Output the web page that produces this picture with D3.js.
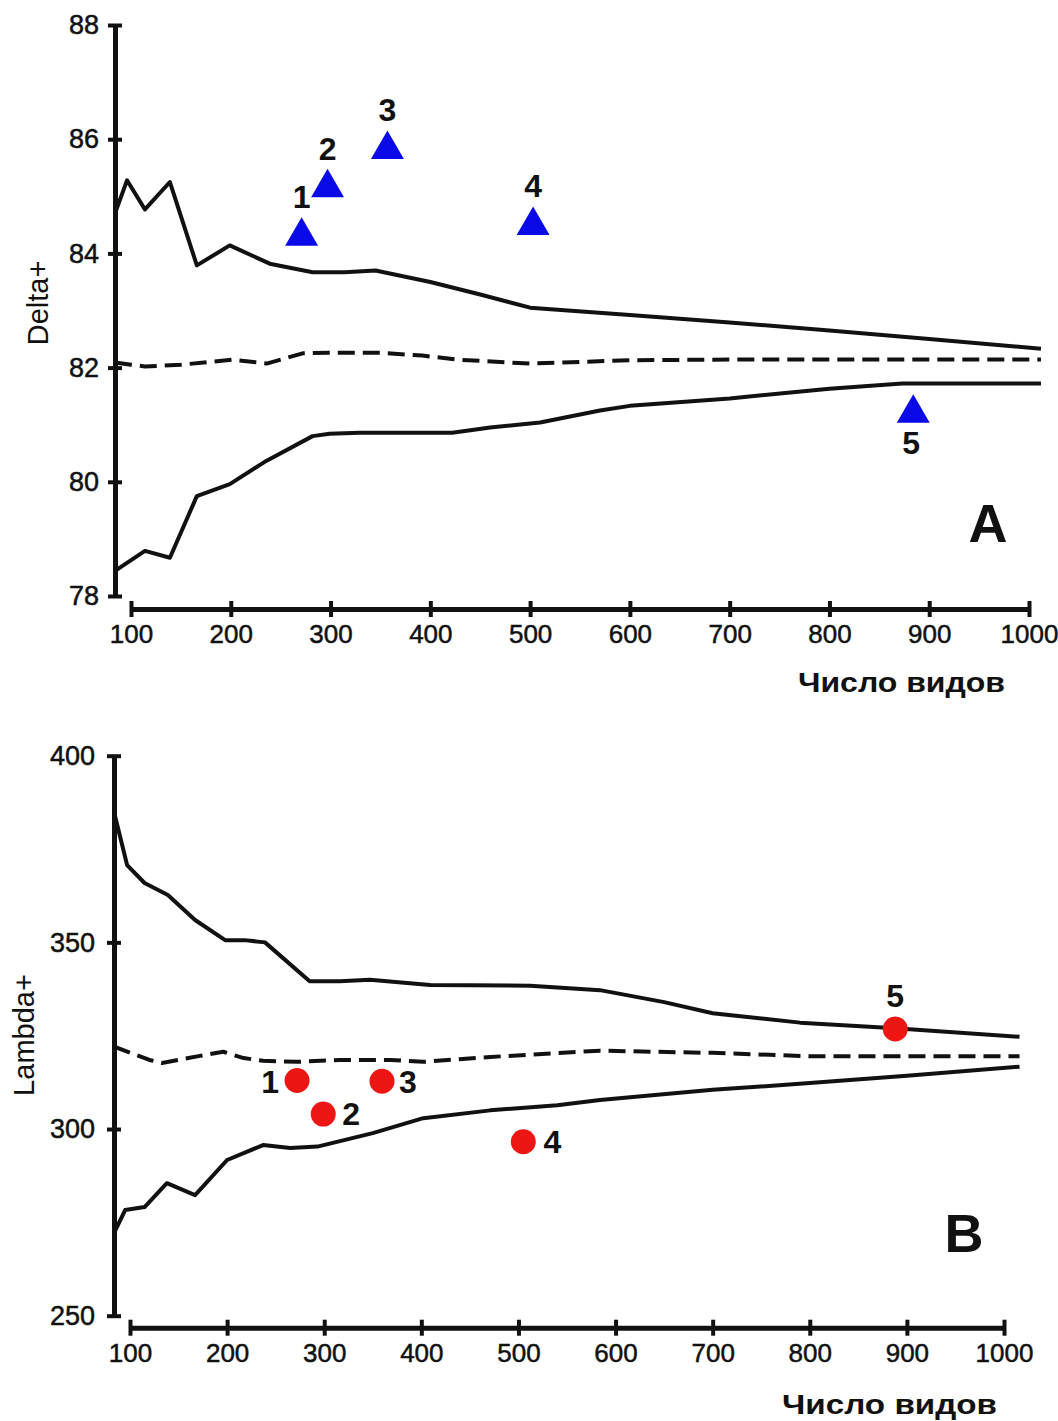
<!DOCTYPE html>
<html>
<head>
<meta charset="utf-8">
<script src="https://cdn.jsdelivr.net/npm/d3@7"></script>
<style>
  body { margin: 0; background: #fff; }
  text { font-family: "Liberation Sans", Arial, sans-serif; fill: #111; }
</style>
</head>
<body>
<svg id="chart" width="1058" height="1421"></svg>
<script>
// ---- panel A : Delta+ ----
const aTicksX = [100, 200, 300, 400, 500, 600, 700, 800, 900, 1000];
const aTicksY = [78, 80, 82, 84, 86, 88];

const aUpperN = [84, 96, 114, 139, 166, 199, 239, 282, 314, 345, 400, 450, 500, 600, 700, 800, 900, 1012];
const aUpperV = [84.7, 85.28, 84.77, 85.25, 83.79, 84.14, 83.82, 83.67, 83.67, 83.70, 83.50, 83.28, 83.05, 82.92, 82.79, 82.65, 82.50, 82.33];

const aMeanN = [84, 100, 114, 150, 202, 236, 272, 299, 350, 392, 427, 500, 550, 600, 700, 800, 900, 1012];
const aMeanV = [82.09, 82.05, 82.02, 82.05, 82.14, 82.07, 82.25, 82.26, 82.26, 82.21, 82.14, 82.07, 82.10, 82.13, 82.14, 82.14, 82.14, 82.14];

const aLowerN = [84, 114, 139, 166, 199, 236, 282, 299, 329, 422, 460, 510, 570, 600, 700, 800, 873, 1012];
const aLowerV = [78.44, 78.79, 78.67, 79.75, 79.96, 80.37, 80.80, 80.84, 80.86, 80.86, 80.95, 81.04, 81.25, 81.33, 81.46, 81.63, 81.72, 81.72];

const aPointN = [271, 297, 357, 503, 884];
const aPointV = [84.30, 85.15, 85.82, 84.49, 81.20];
const aPointLabel = ["1", "2", "3", "4", "5"];

// ---- panel B : Lambda+ ----
const bTicksX = [100, 200, 300, 400, 500, 600, 700, 800, 900, 1000];
const bTicksY = [250, 300, 350, 400];

const bUpperN = [83.5, 97, 115, 139, 167, 198, 218, 239, 285, 316, 347, 409, 512, 584, 650, 700, 790, 888, 1016];
const bUpperV = [385, 370.7, 365.9, 362.7, 356, 350.6, 350.6, 350, 339.6, 339.6, 340, 338.6, 338.4, 337.2, 334, 331, 328.5, 327, 324.7];

const bMeanN = [83.5, 120, 133, 172, 196, 217, 237, 272, 316, 368, 402, 471, 584, 700, 800, 1016];
const bMeanV = [322.1, 318.5, 317.7, 319.6, 320.7, 319, 318.3, 318, 318.5, 318.5, 318, 319.3, 321, 320.4, 319.5, 319.5];

const bLowerN = [83.5, 95, 115, 138, 167, 200, 237, 265, 293, 350, 402, 471, 540, 584, 700, 800, 900, 1016];
const bLowerV = [272.1, 278.3, 279.1, 285.5, 282.3, 291.7, 295.7, 294.9, 295.3, 298.9, 302.9, 305, 306.4, 307.8, 310.5, 312.3, 314.3, 316.7];

const bPointN = [272, 299, 359.5, 505, 888];
const bPointV = [313, 304, 312.8, 296.6, 326.8];
const bPointLabel = ["1", "2", "3", "4", "5"];

const xTitle = "Число видов";

const svg = d3.select("#chart");
const zip = (n, v) => n.map((d, i) => [d, v[i]]);

function draw_panel(cfg) {
  const g = svg.append("g");

  const x = d3.scaleLinear().domain([100, 1000]).range(cfg.xRange);
  const y = d3.scaleLinear().domain(cfg.yDomain).range(cfg.yRange);

  // x axis (offset below the end of the y axis)
  const xAxis = d3.axisBottom(x).tickValues(cfg.ticksX).tickFormat(d3.format("d"))
    .tickSize(8).tickPadding(8).tickSizeOuter(0);
  g.append("g")
    .attr("transform", `translate(0,${cfg.xAxisY})`)
    .call(xAxis)
    .call((a) => a.select(".domain").attr("stroke", "#111").attr("stroke-width", 5))
    .call((a) => a.selectAll(".tick line").attr("y1", -8).attr("y2", 8).attr("stroke", "#111").attr("stroke-width", 4))
    .call((a) => a.selectAll(".tick text").style("font-size", "26px").attr("fill", "#111")
      .attr("stroke", "#111").attr("stroke-width", 0.5));

  // y axis
  const yAxis = d3.axisLeft(y).tickValues(cfg.ticksY).tickSize(7).tickPadding(cfg.yPad).tickSizeOuter(0);
  g.append("g")
    .attr("transform", `translate(${cfg.yAxisX},0)`)
    .call(yAxis)
    .call((a) => a.select(".domain").attr("stroke", "#111").attr("stroke-width", 5))
    .call((a) => a.selectAll(".tick line").attr("x1", -7).attr("x2", 7).attr("stroke", "#111").attr("stroke-width", 4))
    .call((a) => a.selectAll(".tick text").style("font-size", "27px").attr("fill", "#111")
      .attr("stroke", "#111").attr("stroke-width", 0.5));

  const line = d3.line().x((d) => x(d[0])).y((d) => y(d[1]));

  g.selectAll(".band")
    .data(cfg.lines)
    .enter()
    .append("path")
    .attr("d", (d) => line(d.pts))
    .attr("fill", "none")
    .attr("stroke", "#111")
    .attr("stroke-width", 4)
    .attr("stroke-linejoin", "round")
    .attr("stroke-dasharray", (d) => (d.dashed ? "17,8" : null));

  // points
  const pts = cfg.pointN.map((n, i) => ({ n: n, v: cfg.pointV[i], label: cfg.pointLabel[i] }));
  if (cfg.marker === "triangle") {
    g.selectAll(".pt")
      .data(pts)
      .enter()
      .append("path")
      .attr("d", d3.symbol(d3.symbolTriangle, 471))
      .attr("transform", (d) => `translate(${x(d.n)},${y(d.v)})`)
      .attr("fill", "#0a0ae8");
  } else {
    g.selectAll(".pt")
      .data(pts)
      .enter()
      .append("circle")
      .attr("cx", (d) => x(d.n))
      .attr("cy", (d) => y(d.v))
      .attr("r", 12.5)
      .attr("fill", "#ee1515");
  }

  g.selectAll(".pt-label")
    .data(pts)
    .enter()
    .append("text")
    .attr("x", (d) => x(d.n) + cfg.labelOffset(d)[0])
    .attr("y", (d) => y(d.v) + cfg.labelOffset(d)[1])
    .attr("text-anchor", "middle")
    .style("font-size", "32px")
    .style("font-weight", "bold")
    .text((d) => d.label);

  // axis titles
  g.append("text")
    .attr("transform", `translate(${cfg.yTitlePos[0]},${cfg.yTitlePos[1]}) rotate(-90)`)
    .attr("text-anchor", "middle")
    .style("font-size", "29px")
    .text(cfg.yTitle);

  g.append("text")
    .attr("x", cfg.xTitlePos[0])
    .attr("y", cfg.xTitlePos[1])
    .attr("textLength", cfg.xTitlePos[2] - cfg.xTitlePos[0])
    .attr("lengthAdjust", "spacingAndGlyphs")
    .style("font-size", "28px")
    .style("font-weight", "bold")
    .text(xTitle);

  g.append("text")
    .attr("x", cfg.letterPos[0])
    .attr("y", cfg.letterPos[1])
    .attr("text-anchor", "middle")
    .style("font-size", "54px")
    .style("font-weight", "bold")
    .text(cfg.letter);
}

draw_panel({
  xRange: [131, 1029], yDomain: [78, 88], yRange: [596, 25],
  xAxisY: 609, yAxisX: 115, yPad: 9,
  ticksX: aTicksX, ticksY: aTicksY,
  lines: [
    { pts: zip(aUpperN, aUpperV), dashed: false },
    { pts: zip(aMeanN, aMeanV), dashed: true },
    { pts: zip(aLowerN, aLowerV), dashed: false }
  ],
  marker: "triangle",
  pointN: aPointN, pointV: aPointV, pointLabel: aPointLabel,
  labelOffset: (d) => (d.label === "5" ? [-2, 41] : [0, -28]),
  yTitle: "Delta+", yTitlePos: [48, 303],
  xTitlePos: [798, 692, 1005],
  letter: "A", letterPos: [988, 542]
});

draw_panel({
  xRange: [130, 1004], yDomain: [250, 400], yRange: [1315.7, 755.7],
  xAxisY: 1327.7, yAxisX: 114, yPad: 12,
  ticksX: bTicksX, ticksY: bTicksY,
  lines: [
    { pts: zip(bUpperN, bUpperV), dashed: false },
    { pts: zip(bMeanN, bMeanV), dashed: true },
    { pts: zip(bLowerN, bLowerV), dashed: false }
  ],
  marker: "circle",
  pointN: bPointN, pointV: bPointV, pointLabel: bPointLabel,
  labelOffset: (d) => ({ "1": [-27, 12], "2": [28, 11], "3": [26, 12], "4": [29, 11], "5": [0, -22] })[d.label],
  yTitle: "Lambda+", yTitlePos: [34, 1035],
  xTitlePos: [782, 1414, 997],
  letter: "B", letterPos: [964, 1252]
});
</script>
</body>
</html>
